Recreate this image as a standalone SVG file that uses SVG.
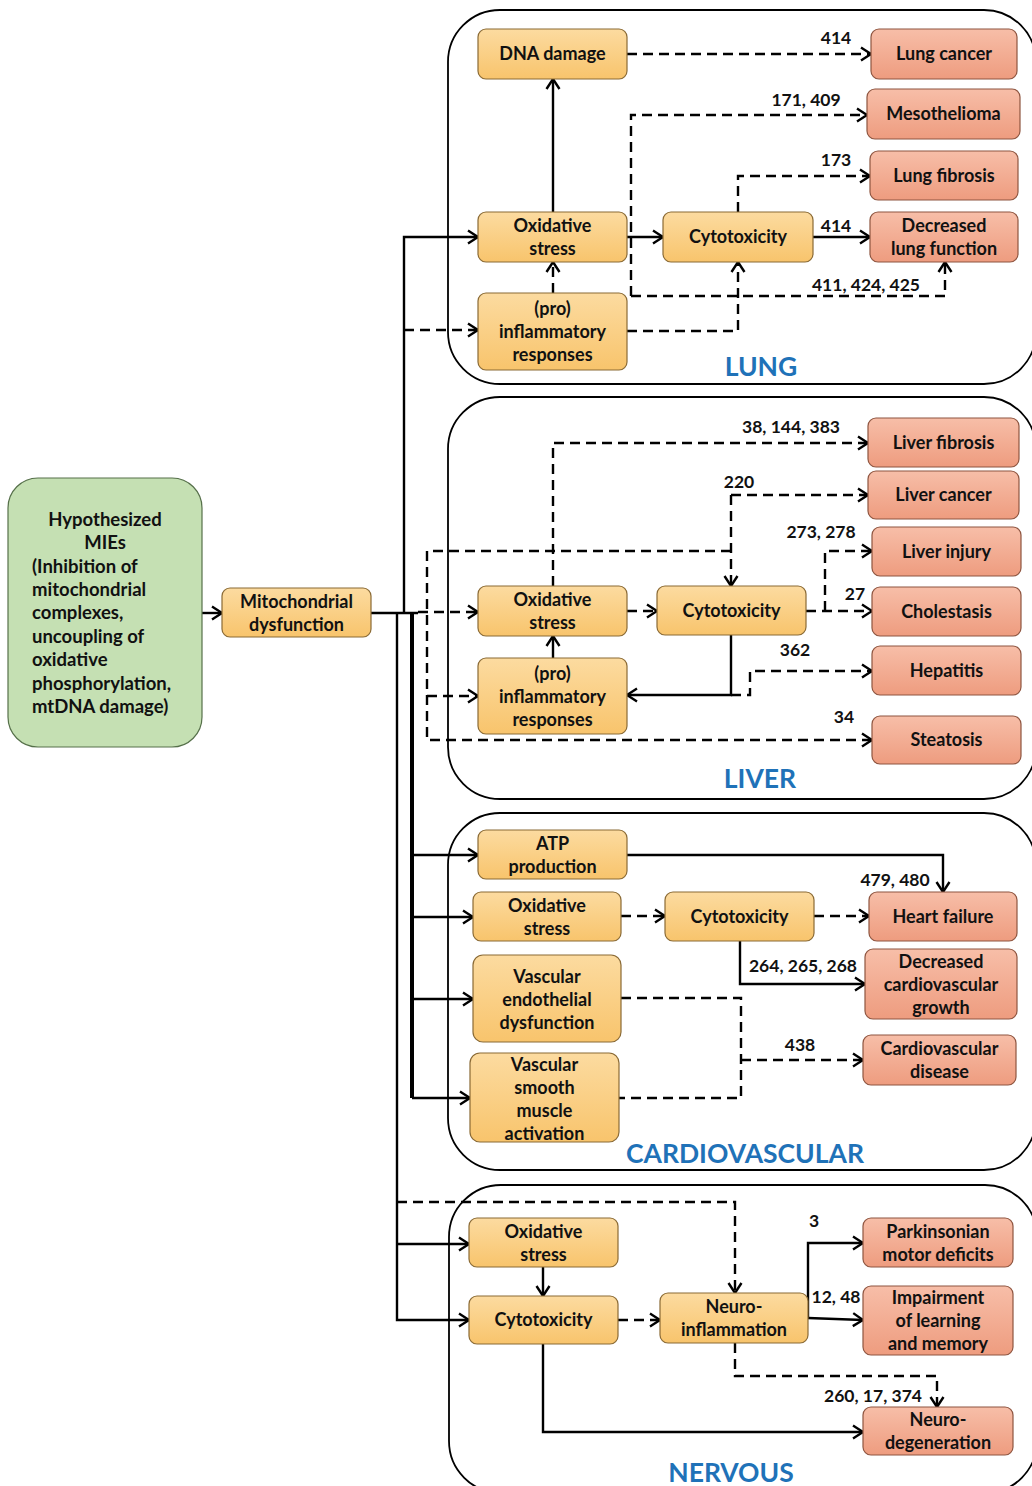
<svg xmlns="http://www.w3.org/2000/svg" width="1032" height="1486" viewBox="0 0 1032 1486">
<style>
.p{fill:none;stroke:#000;stroke-width:1.8}
.c{fill:none;stroke:#000;stroke-width:2.4}
.d{stroke-dasharray:10 6}
.th{stroke-width:4}
.o{fill:url(#gO);stroke:#8a6a35;stroke-width:1.2}
.s{fill:url(#gS);stroke:#8e5540;stroke-width:1.2}
.g{fill:#c5e0b3;stroke:#56704a;stroke-width:1.2}
text{font-family:Lato,"Open Sans","Liberation Sans",sans-serif;font-weight:bold;fill:#111}
.t{font-size:18px;text-anchor:middle}
.l{font-size:18.5px}
.n{font-size:17.5px;text-anchor:middle}
.r{font-size:26.5px;text-anchor:middle;fill:#1f72b8}
</style>
<defs>
<linearGradient id="gO" x1="0" y1="0" x2="0" y2="1"><stop offset="0" stop-color="#fcdba0"/><stop offset="1" stop-color="#f8c46c"/></linearGradient>
<linearGradient id="gS" x1="0" y1="0" x2="0" y2="1"><stop offset="0" stop-color="#f7bea8"/><stop offset="1" stop-color="#ee9c7f"/></linearGradient>
<marker id="ah" viewBox="0 0 12 16" refX="11" refY="8" markerWidth="12" markerHeight="16" markerUnits="userSpaceOnUse" orient="auto"><path d="M1,1.5 L11,8 L1,14.5" fill="none" stroke="#000" stroke-width="2.4"/></marker>
</defs>
<rect width="1032" height="1486" fill="#fff"/>
<g id="panels">
<rect class="p" x="448" y="10" width="588" height="374" rx="52"/>
<rect class="p" x="448" y="397" width="588" height="402" rx="52"/>
<rect class="p" x="448" y="813" width="588" height="357" rx="52"/>
<rect class="p" x="449" y="1185" width="588" height="308" rx="52"/>
<text class="r" x="761" y="376">LUNG</text>
<text class="r" x="760" y="788">LIVER</text>
<text class="r" x="745" y="1163">CARDIOVASCULAR</text>
<text class="r" x="731" y="1482">NERVOUS</text>
</g>
<g id="connectors">
<path class="c" d="M202,613 H222" marker-end="url(#ah)"/>
<path class="c" d="M371,613 H418"/>
<path class="c" d="M404,613 V237 H478" marker-end="url(#ah)"/>
<path class="c d" d="M404,330 H478" marker-end="url(#ah)"/>
<path class="c" d="M397,613 V1320 H469" marker-end="url(#ah)"/>
<path class="c" d="M397,1244 H469" marker-end="url(#ah)"/>
<path class="c d" d="M397,1202 H735 V1293" marker-end="url(#ah)"/>
<path class="c th" d="M412,613 V1098"/>
<path class="c" d="M412,1098 H470" marker-end="url(#ah)"/>
<path class="c" d="M412,855 H478" marker-end="url(#ah)"/>
<path class="c" d="M412,917 H473" marker-end="url(#ah)"/>
<path class="c" d="M412,999 H473" marker-end="url(#ah)"/>
<path class="c" d="M553,212 V79" marker-end="url(#ah)"/>
<path class="c d" d="M553,293 V262" marker-end="url(#ah)"/>
<path class="c d" d="M627,54 H871" marker-end="url(#ah)"/>
<path class="c" d="M627,237 H663" marker-end="url(#ah)"/>
<path class="c d" d="M631,296 V115 H867" marker-end="url(#ah)"/>
<path class="c d" d="M631,296 H945 V262" marker-end="url(#ah)"/>
<path class="c d" d="M627,331 H738 V262" marker-end="url(#ah)"/>
<path class="c d" d="M738,212 V176 H870" marker-end="url(#ah)"/>
<path class="c" d="M813,237 H870" marker-end="url(#ah)"/>
<path class="c d" d="M418,612 H478" marker-end="url(#ah)"/>
<path class="c d" d="M731,551 H427 V740 H872" marker-end="url(#ah)"/>
<path class="c d" d="M427,696 H478" marker-end="url(#ah)"/>
<path class="c d" d="M553,586 V443 H868" marker-end="url(#ah)"/>
<path class="c d" d="M731,495 V586" marker-end="url(#ah)"/>
<path class="c d" d="M731,495 H868" marker-end="url(#ah)"/>
<path class="c d" d="M627,611 H657" marker-end="url(#ah)"/>
<path class="c" d="M553,658 V636" marker-end="url(#ah)"/>
<path class="c d" d="M806,611 H872" marker-end="url(#ah)"/>
<path class="c d" d="M825,611 V551 H872" marker-end="url(#ah)"/>
<path class="c" d="M731,635 V695 H627" marker-end="url(#ah)"/>
<path class="c d" d="M731,695 H750 V671 H872" marker-end="url(#ah)"/>
<path class="c" d="M627,855 H943 V892" marker-end="url(#ah)"/>
<path class="c d" d="M621,916 H665" marker-end="url(#ah)"/>
<path class="c d" d="M814,916 H869" marker-end="url(#ah)"/>
<path class="c" d="M740,941 V984 H865" marker-end="url(#ah)"/>
<path class="c d" d="M621,998 H741 V1098 H619"/>
<path class="c d" d="M741,1060 H863" marker-end="url(#ah)"/>
<path class="c" d="M543,1267 V1296" marker-end="url(#ah)"/>
<path class="c d" d="M618,1320 H660" marker-end="url(#ah)"/>
<path class="c" d="M543,1344 V1432 H863" marker-end="url(#ah)"/>
<path class="c" d="M808,1318 V1243 H863" marker-end="url(#ah)"/>
<path class="c" d="M808,1318 L863,1320" marker-end="url(#ah)"/>
<path class="c d" d="M735,1343 V1376 H937 V1407" marker-end="url(#ah)"/>
<text class="n" x="836" y="44">414</text>
<text class="n" x="806" y="106">171, 409</text>
<text class="n" x="836" y="166">173</text>
<text class="n" x="836" y="232">414</text>
<text class="n" x="866" y="291">411, 424, 425</text>
<text class="n" x="791" y="433">38, 144, 383</text>
<text class="n" x="739" y="488">220</text>
<text class="n" x="821" y="538">273, 278</text>
<text class="n" x="855" y="600">27</text>
<text class="n" x="795" y="656">362</text>
<text class="n" x="844" y="723">34</text>
<text class="n" x="895" y="886">479, 480</text>
<text class="n" x="803" y="972">264, 265, 268</text>
<text class="n" x="800" y="1051">438</text>
<text class="n" x="814" y="1227">3</text>
<text class="n" x="836" y="1303">12, 48</text>
<text class="n" x="873" y="1402">260, 17, 374</text>
</g>
<g id="mies"><rect class="g" x="8" y="478" width="194" height="269" rx="30"/>
<text class="t" x="105" y="526" style="font-size:18.5px">Hypothesized</text><text class="t" x="105" y="549" style="font-size:18.5px">MIEs</text>
<text class="l" x="32" y="573">(Inhibition of</text><text class="l" x="32" y="596">mitochondrial</text><text class="l" x="32" y="619">complexes,</text><text class="l" x="32" y="643">uncoupling of</text><text class="l" x="32" y="666">oxidative</text><text class="l" x="32" y="690">phosphorylation,</text><text class="l" x="32" y="713">mtDNA damage)</text></g>
<g id="mito"><rect class="o" x="222" y="588" width="149" height="49" rx="8"/><text class="t" x="296.5" y="607.5">Mitochondrial</text><text class="t" x="296.5" y="630.5">dysfunction</text></g>
<g id="lung-dna"><rect class="o" x="478" y="29" width="149" height="50" rx="8"/><text class="t" x="552.5" y="60">DNA damage</text></g>
<g id="lung-ox"><rect class="o" x="478" y="212" width="149" height="50" rx="8"/><text class="t" x="552.5" y="232">Oxidative</text><text class="t" x="552.5" y="255">stress</text></g>
<g id="lung-inf"><rect class="o" x="478" y="293" width="149" height="77" rx="8"/><text class="t" x="552.5" y="315">(pro)</text><text class="t" x="552.5" y="338">inflammatory</text><text class="t" x="552.5" y="361">responses</text></g>
<g id="lung-cyto"><rect class="o" x="663" y="212" width="150" height="50" rx="8"/><text class="t" x="738" y="243">Cytotoxicity</text></g>
<g id="lung-cancer"><rect class="s" x="871" y="29" width="146" height="50" rx="8"/><text class="t" x="944" y="60">Lung cancer</text></g>
<g id="meso"><rect class="s" x="867" y="89" width="153" height="50" rx="8"/><text class="t" x="943.5" y="120">Mesothelioma</text></g>
<g id="lung-fib"><rect class="s" x="870" y="151" width="148" height="49" rx="8"/><text class="t" x="944" y="181.5">Lung fibrosis</text></g>
<g id="lung-func"><rect class="s" x="870" y="212" width="148" height="50" rx="8"/><text class="t" x="944" y="232">Decreased</text><text class="t" x="944" y="255">lung function</text></g>
<g id="liv-ox"><rect class="o" x="478" y="586" width="149" height="50" rx="8"/><text class="t" x="552.5" y="606">Oxidative</text><text class="t" x="552.5" y="629">stress</text></g>
<g id="liv-inf"><rect class="o" x="478" y="658" width="149" height="76" rx="8"/><text class="t" x="552.5" y="680">(pro)</text><text class="t" x="552.5" y="703">inflammatory</text><text class="t" x="552.5" y="726">responses</text></g>
<g id="liv-cyto"><rect class="o" x="657" y="586" width="149" height="49" rx="8"/><text class="t" x="731.5" y="616.5">Cytotoxicity</text></g>
<g id="liv-fib"><rect class="s" x="868" y="418" width="151" height="49" rx="8"/><text class="t" x="943.5" y="448.5">Liver fibrosis</text></g>
<g id="liv-cancer"><rect class="s" x="868" y="471" width="151" height="48" rx="8"/><text class="t" x="943.5" y="501">Liver cancer</text></g>
<g id="liv-inj"><rect class="s" x="872" y="527" width="149" height="49" rx="8"/><text class="t" x="946.5" y="557.5">Liver injury</text></g>
<g id="chol"><rect class="s" x="872" y="587" width="149" height="49" rx="8"/><text class="t" x="946.5" y="617.5">Cholestasis</text></g>
<g id="hep"><rect class="s" x="872" y="646" width="149" height="49" rx="8"/><text class="t" x="946.5" y="676.5">Hepatitis</text></g>
<g id="steat"><rect class="s" x="872" y="716" width="149" height="48" rx="8"/><text class="t" x="946.5" y="746">Steatosis</text></g>
<g id="atp"><rect class="o" x="478" y="830" width="149" height="49" rx="8"/><text class="t" x="552.5" y="849.5">ATP</text><text class="t" x="552.5" y="872.5">production</text></g>
<g id="car-ox"><rect class="o" x="473" y="892" width="148" height="49" rx="8"/><text class="t" x="547" y="911.5">Oxidative</text><text class="t" x="547" y="934.5">stress</text></g>
<g id="ved"><rect class="o" x="473" y="955" width="148" height="87" rx="10"/><text class="t" x="547" y="983">Vascular</text><text class="t" x="547" y="1006">endothelial</text><text class="t" x="547" y="1029">dysfunction</text></g>
<g id="vsm"><rect class="o" x="470" y="1053" width="149" height="89" rx="10"/><text class="t" x="544.5" y="1071">Vascular</text><text class="t" x="544.5" y="1094">smooth</text><text class="t" x="544.5" y="1117">muscle</text><text class="t" x="544.5" y="1140">activation</text></g>
<g id="car-cyto"><rect class="o" x="665" y="892" width="149" height="49" rx="8"/><text class="t" x="739.5" y="922.5">Cytotoxicity</text></g>
<g id="hf"><rect class="s" x="869" y="892" width="148" height="49" rx="8"/><text class="t" x="943" y="922.5">Heart failure</text></g>
<g id="dcg"><rect class="s" x="865" y="949" width="152" height="70" rx="8"/><text class="t" x="941" y="968">Decreased</text><text class="t" x="941" y="991">cardiovascular</text><text class="t" x="941" y="1014">growth</text></g>
<g id="cvd"><rect class="s" x="863" y="1035" width="153" height="50" rx="8"/><text class="t" x="939.5" y="1055">Cardiovascular</text><text class="t" x="939.5" y="1078">disease</text></g>
<g id="ner-ox"><rect class="o" x="469" y="1218" width="149" height="49" rx="8"/><text class="t" x="543.5" y="1237.5">Oxidative</text><text class="t" x="543.5" y="1260.5">stress</text></g>
<g id="ner-cyto"><rect class="o" x="469" y="1296" width="149" height="48" rx="8"/><text class="t" x="543.5" y="1326">Cytotoxicity</text></g>
<g id="neuroinf"><rect class="o" x="660" y="1293" width="148" height="50" rx="8"/><text class="t" x="734" y="1313">Neuro-</text><text class="t" x="734" y="1336">inflammation</text></g>
<g id="park"><rect class="s" x="863" y="1218" width="150" height="49" rx="8"/><text class="t" x="938" y="1237.5">Parkinsonian</text><text class="t" x="938" y="1260.5">motor deficits</text></g>
<g id="learn"><rect class="s" x="863" y="1286" width="150" height="69" rx="8"/><text class="t" x="938" y="1304">Impairment</text><text class="t" x="938" y="1327">of learning</text><text class="t" x="938" y="1350">and memory</text></g>
<g id="neurodeg"><rect class="s" x="863" y="1407" width="150" height="48" rx="8"/><text class="t" x="938" y="1426">Neuro-</text><text class="t" x="938" y="1449">degeneration</text></g>
</svg>
